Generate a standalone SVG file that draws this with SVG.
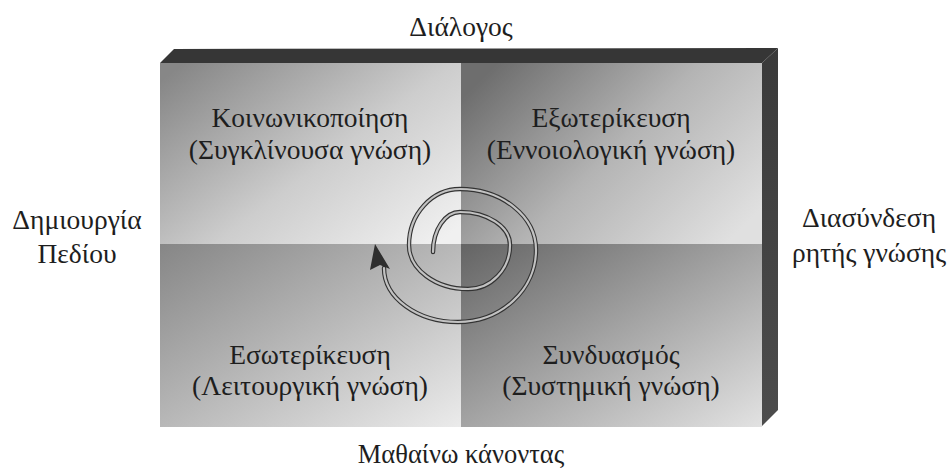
<svg xmlns="http://www.w3.org/2000/svg" width="949" height="468" viewBox="0 0 949 468">
<style>
text{font-family:"Liberation Serif","DejaVu Serif",serif;fill:#1e1e1e;text-anchor:middle}
.q{font-size:27.5px}
.o{font-size:27.5px}
.sp{fill:none;stroke-linecap:round}
</style>
<defs>
<linearGradient id="gTL" x1="0" y1="0.1" x2="1" y2="0.9">
<stop offset="0" stop-color="#878787"/><stop offset="0.55" stop-color="#cdcdcd"/><stop offset="1" stop-color="#f0f0f0"/>
</linearGradient>
<linearGradient id="gTR" x1="0" y1="0.2" x2="1" y2="0.8">
<stop offset="0" stop-color="#6e6e6e"/><stop offset="0.5" stop-color="#b4b4b4"/><stop offset="1" stop-color="#e0e0e0"/>
</linearGradient>
<linearGradient id="gBL" x1="0" y1="0" x2="1" y2="1">
<stop offset="0" stop-color="#868686"/><stop offset="0.5" stop-color="#b8b8b8"/><stop offset="1" stop-color="#ebebeb"/>
</linearGradient>
<linearGradient id="gBR" x1="0" y1="0" x2="1" y2="1">
<stop offset="0" stop-color="#646464"/><stop offset="0.5" stop-color="#a4a4a4"/><stop offset="1" stop-color="#e2e2e2"/>
</linearGradient>
<linearGradient id="gSide" x1="0" y1="0" x2="0" y2="1">
<stop offset="0" stop-color="#3a3a3a"/><stop offset="1" stop-color="#4c4c4c"/>
</linearGradient>
</defs>
<rect width="949" height="468" fill="#ffffff"/>
<g id="frame">
<polygon points="160,63 174,49 778,48 762,63" fill="#363636"/>
<polygon points="762,63 778,48 778,410 762,426" fill="url(#gSide)"/>
</g>
<g id="socialization">
<rect x="160" y="63" width="301" height="181" fill="url(#gTL)"/>
<text class="q" x="310" y="127">Κοινωνικοποίηση</text>
<text class="q" x="310" y="159">(Συγκλίνουσα γνώση)</text>
</g>
<g id="externalization">
<rect x="461" y="63" width="301" height="181" fill="url(#gTR)"/>
<text class="q" x="611" y="127">Εξωτερίκευση</text>
<text class="q" x="611" y="159">(Εννοιολογική γνώση)</text>
</g>
<g id="internalization">
<rect x="160" y="244" width="301" height="183" fill="url(#gBL)"/>
<text class="q" x="310" y="364">Εσωτερίκευση</text>
<text class="q" x="310" y="395">(Λειτουργική γνώση)</text>
</g>
<g id="combination">
<rect x="461" y="244" width="301" height="183" fill="url(#gBR)"/>
<text class="q" x="611" y="364">Συνδυασμός</text>
<text class="q" x="611" y="395">(Συστημική γνώση)</text>
</g>
<g id="connectors">
<path id="spiral" class="sp" stroke="#333333" stroke-width="4.4" d="M433,252 A27,40 0 0 1 460,212 A50,33 0 0 1 510,245 A42,44 0 0 1 468,289 A59,44 0 0 1 409,245 A51,56 0 0 1 460,189 A76,61 0 0 1 536,250 A78,72 0 0 1 458,322 A74,54 0 0 1 384,268"/>
<path class="sp" stroke="#ffffff" stroke-opacity="0.7" stroke-width="2.2" d="M433,252 A27,40 0 0 1 460,212 A50,33 0 0 1 510,245 A42,44 0 0 1 468,289 A59,44 0 0 1 409,245 A51,56 0 0 1 460,189 A76,61 0 0 1 536,250 A78,72 0 0 1 458,322 A74,54 0 0 1 384,268"/>
<polygon points="375,244 370,270 380,265 390,269" fill="#2e2e2e"/>
</g>
<g id="labels">
<text class="o" x="461" y="36">Διάλογος</text>
<text class="o" x="77" y="229">Δημιουργία</text>
<text class="o" x="77" y="263">Πεδίου</text>
<text class="o" x="869" y="227">Διασύνδεση</text>
<text class="o" x="869" y="262">ρητής γνώσης</text>
<text class="o" x="461" y="463" style="font-size:26.5px">Μαθαίνω κάνοντας</text>
</g>
</svg>
